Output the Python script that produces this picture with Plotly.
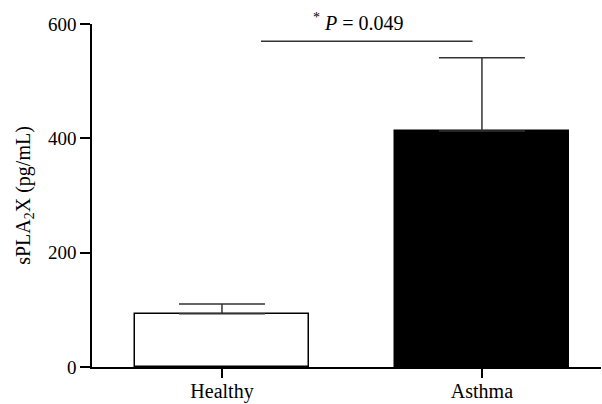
import plotly.graph_objects as go

categories = ["Healthy", "Asthma"]
means = [93, 413]
errors_up = [17, 128]
bar_colors = ["white", "black"]
y_ticks = [0, 200, 400, 600]
sig_y = 570
sig_text = "<sup>*</sup> <i>P</i> = 0.049"

FONT = "Liberation Serif, Times New Roman, serif"

fig = go.Figure()
fig.add_trace(go.Bar(
    x=[0, 1], y=means,
    width=0.667,
    marker=dict(color=bar_colors, line=dict(color="black", width=1.5)),
    error_y=dict(type="data", symmetric=False, array=errors_up,
                 arrayminus=[0, 0], color="#333333", thickness=1.5, width=43),
    showlegend=False,
))

fig.add_shape(type="line", x0=0.15, x1=0.964, y0=sig_y, y1=sig_y,
              xref="x", yref="y", line=dict(color="#333333", width=1.5))
fig.add_annotation(x=0.527, y=sig_y, xref="x", yref="y", text=sig_text,
                   showarrow=False, yanchor="bottom", yshift=5,
                   font=dict(family=FONT, size=20, color="black"))

fig.update_layout(
    width=602, height=404,
    margin=dict(l=92, r=1, t=24, b=37, autoexpand=False),
    plot_bgcolor="white", paper_bgcolor="white",
    font=dict(family=FONT, size=19, color="black"),
    bargap=0,
)
fig.update_xaxes(
    range=[-0.5, 1.458], tickmode="array", tickvals=[0, 1], ticktext=categories,
    showline=True, linecolor="black", linewidth=1.5, automargin=False,
    ticks="outside", ticklen=9, tickwidth=1.5, tickcolor="black",
    ticklabelstandoff=-4,
    showgrid=False, zeroline=False, tickfont=dict(size=20),
)
fig.update_yaxes(
    range=[0, 600], tickmode="array", tickvals=y_ticks,
    showline=True, linecolor="black", linewidth=1.5, automargin=False,
    ticks="outside", ticklen=10, tickwidth=1.5, tickcolor="black",
    showgrid=False, zeroline=False, tickfont=dict(size=19),
    title=dict(text="sPLA<sub>2</sub>X (pg/mL)", font=dict(size=20), standoff=12),
)

fig.write_html("out.html", config={"displayModeBar": False},
               post_script="document.body.style.margin='0px';document.body.style.overflow='hidden';")
